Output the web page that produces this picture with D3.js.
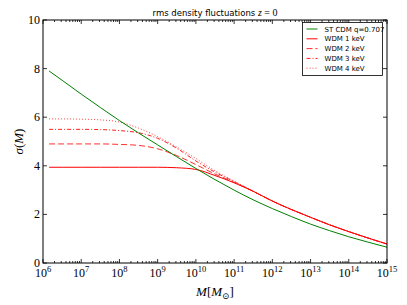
<!DOCTYPE html>
<html>
<head>
<meta charset="utf-8">
<script src="https://cdn.jsdelivr.net/npm/d3@7"></script>
<style>
  body { margin: 0; background: #fff; }
  svg { display: block; }
</style>
</head>
<body>
<div class="canvas"></div>
<script>
// data (log10 of mass, sigma values)
const logMass = [6.16, 6.5, 7, 7.5, 8, 8.5, 9, 9.5, 10, 10.5, 11, 11.5, 12, 12.5, 13, 13.5, 14, 14.5, 15];
const cdm  = [7.90, 7.52, 6.95, 6.40, 5.86, 5.35, 4.86, 4.37, 3.89, 3.43, 3.00, 2.60, 2.24, 1.91, 1.60, 1.33, 1.08, 0.86, 0.65];
const wdm1 = [3.94, 3.94, 3.94, 3.94, 3.94, 3.94, 3.94, 3.92, 3.85, 3.60, 3.30, 2.95, 2.55, 2.20, 1.88, 1.57, 1.29, 1.03, 0.78];
const wdm2 = [4.90, 4.90, 4.90, 4.90, 4.88, 4.84, 4.70, 4.42, 4.05, 3.66, 3.32, 2.95, 2.55, 2.20, 1.88, 1.57, 1.29, 1.03, 0.78];
const wdm3 = [5.50, 5.50, 5.50, 5.49, 5.45, 5.36, 5.13, 4.72, 4.20, 3.74, 3.35, 2.95, 2.55, 2.20, 1.88, 1.57, 1.29, 1.03, 0.78];
const wdm4 = [5.93, 5.93, 5.92, 5.89, 5.80, 5.55, 5.20, 4.77, 4.30, 3.80, 3.37, 2.96, 2.55, 2.20, 1.88, 1.57, 1.29, 1.03, 0.78];

const seriesNames = ['ST CDM q=0.707', 'WDM 1 keV', 'WDM 2 keV', 'WDM 3 keV', 'WDM 4 keV'];
const xTickExp = [6, 7, 8, 9, 10, 11, 12, 13, 14, 15];
const yTicks = [0, 2, 4, 6, 8, 10];

const W = 407, H = 305;
const margin = {top: 20, right: 20, bottom: 42, left: 43};

const svg = d3.select('.canvas')
  .append('svg')
    .attr('width', W)
    .attr('height', H);

const x = d3.scaleLog()
  .domain([1e6, 1e15])
  .range([margin.left, W - margin.right]);

const y = d3.scaleLinear()
  .domain([0, 10])
  .range([H - margin.bottom, margin.top]);

// series styling
const series = [
  {name: seriesNames[0], values: cdm,  color: '#008000', dash: null},
  {name: seriesNames[1], values: wdm1, color: '#ff0000', dash: null},
  {name: seriesNames[2], values: wdm2, color: '#ff3030', dash: '6,3'},
  {name: seriesNames[3], values: wdm3, color: '#ff2020', dash: '4,2,1,2'},
  {name: seriesNames[4], values: wdm4, color: '#ff4040', dash: '1,2'}
];

const line = d3.line()
  .x(d => x(Math.pow(10, d[0])))
  .y(d => y(d[1]))
  .curve(d3.curveMonotoneX);

const plot = svg.append('g');
series.slice().reverse().forEach(s => {
  plot.append('path')
    .datum(logMass.map((m, i) => [m, s.values[i]]))
    .attr('d', line)
    .attr('fill', 'none')
    .attr('stroke', s.color)
    .attr('stroke-width', 1)
    .attr('stroke-dasharray', s.dash);
});

// frame
const x0 = margin.left, x1 = W - margin.right, y0 = H - margin.bottom, y1 = margin.top;
svg.append('rect')
  .attr('x', x0).attr('y', y1)
  .attr('width', x1 - x0).attr('height', y0 - y1)
  .attr('fill', 'none')
  .attr('stroke', '#000')
  .attr('stroke-width', 1);

// ticks on all four sides, pointing in
const ticks = svg.append('g').attr('stroke', '#000').attr('stroke-width', 0.8);
const minor = [];
for (let e = 6; e < 15; e++) {
  for (let k = 2; k <= 9; k++) minor.push(k * Math.pow(10, e));
}
xTickExp.forEach(e => {
  const px = x(Math.pow(10, e));
  ticks.append('line').attr('x1', px).attr('x2', px).attr('y1', y0).attr('y2', y0 - 4);
  ticks.append('line').attr('x1', px).attr('x2', px).attr('y1', y1).attr('y2', y1 + 4);
});
minor.forEach(m => {
  const px = x(m);
  ticks.append('line').attr('x1', px).attr('x2', px).attr('y1', y0).attr('y2', y0 - 2);
  ticks.append('line').attr('x1', px).attr('x2', px).attr('y1', y1).attr('y2', y1 + 2);
});
yTicks.forEach(v => {
  const py = y(v);
  ticks.append('line').attr('x1', x0).attr('x2', x0 + 4).attr('y1', py).attr('y2', py);
  ticks.append('line').attr('x1', x1).attr('x2', x1 - 4).attr('y1', py).attr('y2', py);
});

// tick labels
const serif = '"Liberation Serif", "DejaVu Serif", serif';
const xl = svg.append('g')
  .attr('font-family', serif)
  .attr('font-size', '12px')
  .attr('fill', '#000');
xTickExp.forEach(e => {
  const t = xl.append('text')
    .attr('x', x(Math.pow(10, e)))
    .attr('y', 277)
    .attr('text-anchor', 'middle');
  t.append('tspan').text('10');
  t.append('tspan').attr('font-size', '8.5px').attr('dy', -5).text(e);
});

svg.append('g')
  .attr('font-family', serif)
  .attr('font-size', '12px')
  .selectAll('text')
  .data(yTicks)
  .enter()
  .append('text')
    .attr('x', x0 - 3)
    .attr('y', d => y(d) + 4)
    .attr('text-anchor', 'end')
    .text(d => d);

// axis labels
const xlab = svg.append('text')
  .attr('x', (x0 + x1) / 2)
  .attr('y', 296)
  .attr('text-anchor', 'middle')
  .attr('font-family', serif)
  .attr('font-size', '13px');
xlab.append('tspan').attr('font-style', 'italic').text('M');
xlab.append('tspan').text('[');
xlab.append('tspan').attr('font-style', 'italic').text('M');
xlab.append('tspan').attr('font-size', '9px').attr('dy', 3).text('⊙');
xlab.append('tspan').attr('dy', -3).text(']');

const ylab = svg.append('text')
  .attr('transform', `translate(23,${(y0 + y1) / 2}) rotate(-90)`)
  .attr('text-anchor', 'middle')
  .attr('font-family', serif)
  .attr('font-size', '13px');
ylab.append('tspan').attr('font-style', 'italic').text('σ');
ylab.append('tspan').text('(');
ylab.append('tspan').attr('font-style', 'italic').text('M');
ylab.append('tspan').text(')');

// title
const title = svg.append('text')
  .attr('x', (x0 + x1) / 2)
  .attr('y', 16)
  .attr('text-anchor', 'middle')
  .attr('font-family', '"DejaVu Sans", sans-serif')
  .attr('font-size', '8.5px');
title.append('tspan').text('rms density fluctuations ');
title.append('tspan').attr('font-family', serif).attr('font-style', 'italic').attr('font-size', '10px').text('z');
title.append('tspan').attr('font-family', serif).attr('font-size', '10px').text(' = 0');

// legend
const lg = svg.append('g').attr('transform', 'translate(302.5,22.5)');
lg.append('rect')
  .attr('width', 80).attr('height', 53)
  .attr('fill', '#fff')
  .attr('stroke', '#000')
  .attr('stroke-width', 0.8);
series.forEach((s, i) => {
  const ly = 6.5 + i * 9.8;
  lg.append('line')
    .attr('x1', 4).attr('x2', 15)
    .attr('y1', ly).attr('y2', ly)
    .attr('stroke', s.color)
    .attr('stroke-width', 1)
    .attr('stroke-dasharray', s.dash);
  lg.append('text')
    .attr('x', 22)
    .attr('y', ly + 2.5)
    .attr('font-family', '"DejaVu Sans", sans-serif')
    .attr('font-size', '7px')
    .text(s.name);
});
</script>
</body>
</html>
